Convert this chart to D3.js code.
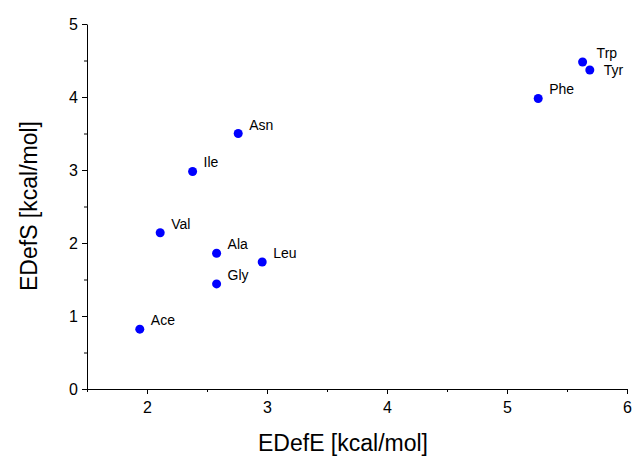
<!DOCTYPE html>
<head>
  <meta charset="utf-8">
  <script src="https://d3js.org/d3.v7.min.js"></script>
  <style type="text/css">
    body { margin: 0; background: #fff; }
    svg { display: block; font-family: "Liberation Sans", Arial, sans-serif; }
    .axis path, .axis line { stroke: #000; }
    .axis text { font-size: 16px; fill: #000; }
  </style>
</head>

<body>
  <script type="text/javascript">
    // residues and their deformation energies
    var names = ["Ace", "Val", "Ile", "Asn", "Ala", "Gly", "Leu", "Phe", "Trp", "Tyr"];
    var edefE = [1.94, 2.11, 2.38, 2.76, 2.58, 2.58, 2.96, 5.26, 5.63, 5.69];
    var edefS = [0.82, 2.14, 2.98, 3.50, 1.86, 1.44, 1.74, 3.98, 4.48, 4.37];
    var xTicks = [2, 3, 4, 5, 6];
    var yTicks = [0, 1, 2, 3, 4, 5];

    var margin = { top: 24, right: 7, bottom: 68, left: 87 },
    width = 634 - margin.left - margin.right,
    height = 457 - margin.top - margin.bottom;

    var data = names.map(function(n, i) {
      return { name: n, x: edefE[i], y: edefS[i] };
    });

    var svg = d3.select("body").append("svg")
      .attr("width", 634)
      .attr("height", 457);

    var g = svg.append("g")
      .attr("transform", "translate(" + [margin.left, margin.top] + ")");

    var xScale = d3.scaleLinear().domain([1.5, 6]).range([0, width]);
    var yScale = d3.scaleLinear().domain([0, 5]).range([height, 0]);

    // minor ticks first, then major ones with labels
    g.append("g")
      .attr("class", "axis")
      .attr("transform", "translate(0," + height + ")")
      .call(d3.axisBottom(xScale).tickValues(d3.range(1.5, 6.01, 0.5)).tickSize(3).tickFormat(""))
      .call(function(s) { s.select(".domain").remove(); });

    g.append("g")
      .attr("class", "axis")
      .call(d3.axisLeft(yScale).tickValues(d3.range(0, 5.01, 0.5)).tickSize(3).tickFormat(""))
      .call(function(s) { s.select(".domain").remove(); });

    g.append("g")
      .attr("class", "axis")
      .attr("transform", "translate(0," + height + ")")
      .call(d3.axisBottom(xScale).tickValues(xTicks).tickSize(5).tickSizeOuter(0).tickPadding(8).tickFormat(d3.format("d")));

    g.append("g")
      .attr("class", "axis")
      .call(d3.axisLeft(yScale).tickValues(yTicks).tickSize(5).tickSizeOuter(0).tickPadding(4).tickFormat(d3.format("d")));

    g.selectAll(".dot")
      .data(data)
      .enter().append("circle")
      .attr("class", "dot")
      .attr("cx", function(d) { return xScale(d.x); })
      .attr("cy", function(d) { return yScale(d.y); })
      .attr("r", 4.5)
      .attr("fill", "#0000ff");

    // Trp and Tyr sit close together, so Tyr's label goes level with its dot
    g.selectAll(".lbl")
      .data(data)
      .enter().append("text")
      .attr("class", "lbl")
      .attr("x", function(d) { return xScale(d.x) + (d.x > 5.5 ? 14 : 11); })
      .attr("y", function(d) { return yScale(d.y) + (d.name === "Tyr" ? 5 : -4); })
      .style("font-size", "14px")
      .text(function(d) { return d.name; });

    svg.append("text")
      .attr("x", 343)
      .attr("y", 451)
      .attr("text-anchor", "middle")
      .style("font-size", "23px")
      .text("EDefE [kcal/mol]");

    svg.append("text")
      .attr("transform", "translate(37,206) rotate(-90)")
      .attr("text-anchor", "middle")
      .style("font-size", "23px")
      .text("EDefS [kcal/mol]");
  </script>
</body>
